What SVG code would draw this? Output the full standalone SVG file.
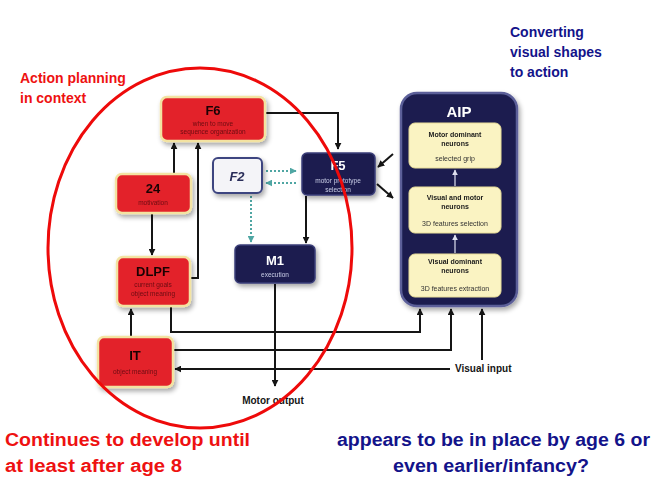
<svg xmlns="http://www.w3.org/2000/svg" width="656" height="486" viewBox="0 0 656 486">
<style>
text{font-family:"Liberation Sans",Arial,sans-serif}
.red{fill:#e3222c;stroke:#f3e3a2;stroke-width:2.5}
.navy{fill:#1d1f50;stroke:#3a3e78;stroke-width:1.5}
.t1{font-weight:bold;font-size:13px;fill:#1a0606;text-anchor:middle}
.s1{font-size:6.5px;fill:#6b0b10;text-anchor:middle}
.t2{font-weight:bold;font-size:13px;fill:#ffffff;text-anchor:middle}
.s2{font-size:6.5px;fill:#c9cbe6;text-anchor:middle}
.yb{fill:#faf3c2;stroke:#e8dc98;stroke-width:1}
.yt{font-weight:bold;font-size:7px;fill:#1a1a1a;text-anchor:middle}
.ys{font-size:7px;fill:#333;text-anchor:middle}
.ln{fill:none;stroke:#151515;stroke-width:2}
.dt{fill:none;stroke:#4fa6a3;stroke-width:2;stroke-dasharray:2 2}
.lbl{font-weight:bold;font-size:10px;fill:#151515}
.note-r{font-weight:bold;fill:#ee1111}
.note-b{font-weight:bold;fill:#13138a}
</style>
<defs>
<filter id="sh" x="-20%" y="-20%" width="150%" height="160%">
<feGaussianBlur in="SourceAlpha" stdDeviation="2.5"/>
<feOffset dx="2" dy="3" result="b"/>
<feComponentTransfer><feFuncA type="linear" slope="0.35"/></feComponentTransfer>
<feMerge><feMergeNode/><feMergeNode in="SourceGraphic"/></feMerge>
</filter>
<marker id="ah" viewBox="0 0 10 10" refX="9" refY="5" markerWidth="7" markerHeight="7" markerUnits="userSpaceOnUse" orient="auto">
<path d="M0,0 L10,5 L0,10 z" fill="#151515"/>
</marker>
<marker id="at" viewBox="0 0 10 10" refX="9" refY="5" markerWidth="7" markerHeight="7" markerUnits="userSpaceOnUse" orient="auto">
<path d="M0,0 L10,5 L0,10 z" fill="#4fa6a3"/>
</marker>
<marker id="aw" viewBox="0 0 10 10" refX="9" refY="5" markerWidth="6" markerHeight="6" markerUnits="userSpaceOnUse" orient="auto">
<path d="M0,0 L10,5 L0,10 z" fill="#dfe0f0"/>
</marker>
</defs>
<rect width="656" height="486" fill="#ffffff"/>

<g id="connectors">
<path class="ln" d="M265,113 H338 V149" marker-end="url(#ah)"/>
<path class="ln" d="M174,174 V143" marker-end="url(#ah)"/>
<path class="ln" d="M190,278 H198 V143" marker-end="url(#ah)"/>
<path class="ln" d="M152,214 V255" marker-end="url(#ah)"/>
<path class="ln" d="M131,337 V309" marker-end="url(#ah)"/>
<path class="ln" d="M171,307 V332 H420 V309" marker-end="url(#ah)"/>
<path class="ln" d="M174,350 H451 V309" marker-end="url(#ah)"/>
<path class="ln" d="M450,369 H175" marker-end="url(#ah)"/>
<path class="ln" d="M482,360 V309" marker-end="url(#ah)"/>
<path class="ln" d="M275,284 V386" marker-end="url(#ah)"/>
<path class="ln" d="M306,196 V243" marker-end="url(#ah)"/>
<path class="ln" d="M393,154 L378,167" marker-end="url(#ah)"/>
<path class="ln" d="M377,184 L393,198" marker-end="url(#ah)"/>
<path class="dt" d="M266,171 H296" marker-end="url(#at)"/>
<path class="dt" d="M296,183 H266" marker-end="url(#at)"/>
<path class="dt" d="M251,196 V242" marker-end="url(#at)"/>
</g>

<g id="F6" filter="url(#sh)">
<rect class="red" x="161" y="97" width="104" height="44" rx="6"/>
<text class="t1" x="213" y="115">F6</text>
<text class="s1" x="213" y="126">when to move</text>
<text class="s1" x="213" y="134">sequence organization</text>
</g>
<g id="n24" filter="url(#sh)">
<rect class="red" x="116" y="174" width="75" height="39" rx="6"/>
<text class="t1" x="153" y="193">24</text>
<text class="s1" x="153" y="205">motivation</text>
</g>
<g id="DLPF" filter="url(#sh)">
<rect class="red" x="117" y="257" width="73" height="49" rx="6"/>
<text class="t1" x="153" y="276">DLPF</text>
<text class="s1" x="153" y="287">current goals</text>
<text class="s1" x="153" y="296">object meaning</text>
</g>
<g id="IT" filter="url(#sh)">
<rect class="red" x="98" y="337" width="75" height="50" rx="6"/>
<text class="t1" x="135" y="360">IT</text>
<text class="s1" x="135" y="374">object meaning</text>
</g>
<g id="F2" filter="url(#sh)">
<rect x="213" y="158" width="49" height="35" rx="5" fill="#f4f4f8" stroke="#3e4580" stroke-width="2"/>
<text x="237" y="181" text-anchor="middle" font-weight="bold" font-style="italic" font-size="13" fill="#2a2d5a">F2</text>
</g>
<g id="F5" filter="url(#sh)">
<rect class="navy" x="302" y="153" width="73" height="42" rx="5"/>
<text class="t2" x="338" y="170">F5</text>
<text class="s2" x="338" y="183">motor prototype</text>
<text class="s2" x="338" y="192">selection</text>
</g>
<g id="M1" filter="url(#sh)">
<rect class="navy" x="235" y="245" width="80" height="38" rx="5"/>
<text class="t2" x="275" y="265">M1</text>
<text class="s2" x="275" y="277">execution</text>
</g>
<g id="AIP" filter="url(#sh)">
<rect x="401" y="93" width="116" height="213" rx="16" fill="#1d1f50" stroke="#5b5f99" stroke-width="2.5"/>
<text x="459" y="117" text-anchor="middle" font-weight="bold" font-size="15" fill="#ffffff">AIP</text>
<rect class="yb" x="409" y="123" width="92" height="45" rx="6"/>
<text class="yt" x="455" y="137">Motor dominant</text>
<text class="yt" x="455" y="146">neurons</text>
<text class="ys" x="455" y="161">selected grip</text>
<rect class="yb" x="409" y="187" width="92" height="46" rx="6"/>
<text class="yt" x="455" y="200">Visual and motor</text>
<text class="yt" x="455" y="209">neurons</text>
<text class="ys" x="455" y="226">3D features selection</text>
<rect class="yb" x="409" y="254" width="92" height="43" rx="6"/>
<text class="yt" x="455" y="264">Visual dominant</text>
<text class="yt" x="455" y="273">neurons</text>
<text class="ys" x="455" y="291">3D features extraction</text>
<path d="M455,186 V170" stroke="#dfe0f0" stroke-width="1.2" marker-end="url(#aw)"/>
<path d="M455,253 V235" stroke="#dfe0f0" stroke-width="1.2" marker-end="url(#aw)"/>
</g>

<text class="lbl" x="455" y="372">Visual input</text>
<text class="lbl" x="273" y="404" text-anchor="middle">Motor output</text>

<ellipse cx="200" cy="248" rx="152" ry="180" fill="none" stroke="#ee0a0a" stroke-width="3"/>

<text class="note-r" font-size="14" x="20" y="83">Action planning</text>
<text class="note-r" font-size="14" x="20" y="103">in context</text>
<text class="note-b" font-size="14" x="510" y="37">Converting</text>
<text class="note-b" font-size="14" x="510" y="57">visual shapes</text>
<text class="note-b" font-size="14" x="510" y="77">to action</text>
<text class="note-r" font-size="18" x="5" y="446" textLength="245" lengthAdjust="spacingAndGlyphs">Continues to develop until</text>
<text class="note-r" font-size="18" x="5" y="472" textLength="177" lengthAdjust="spacingAndGlyphs">at least after age 8</text>
<text class="note-b" font-size="18" x="337" y="446" textLength="313" lengthAdjust="spacingAndGlyphs">appears to be in place by age 6 or</text>
<text class="note-b" font-size="18" x="393" y="472" textLength="196" lengthAdjust="spacingAndGlyphs">even earlier/infancy?</text>
</svg>
